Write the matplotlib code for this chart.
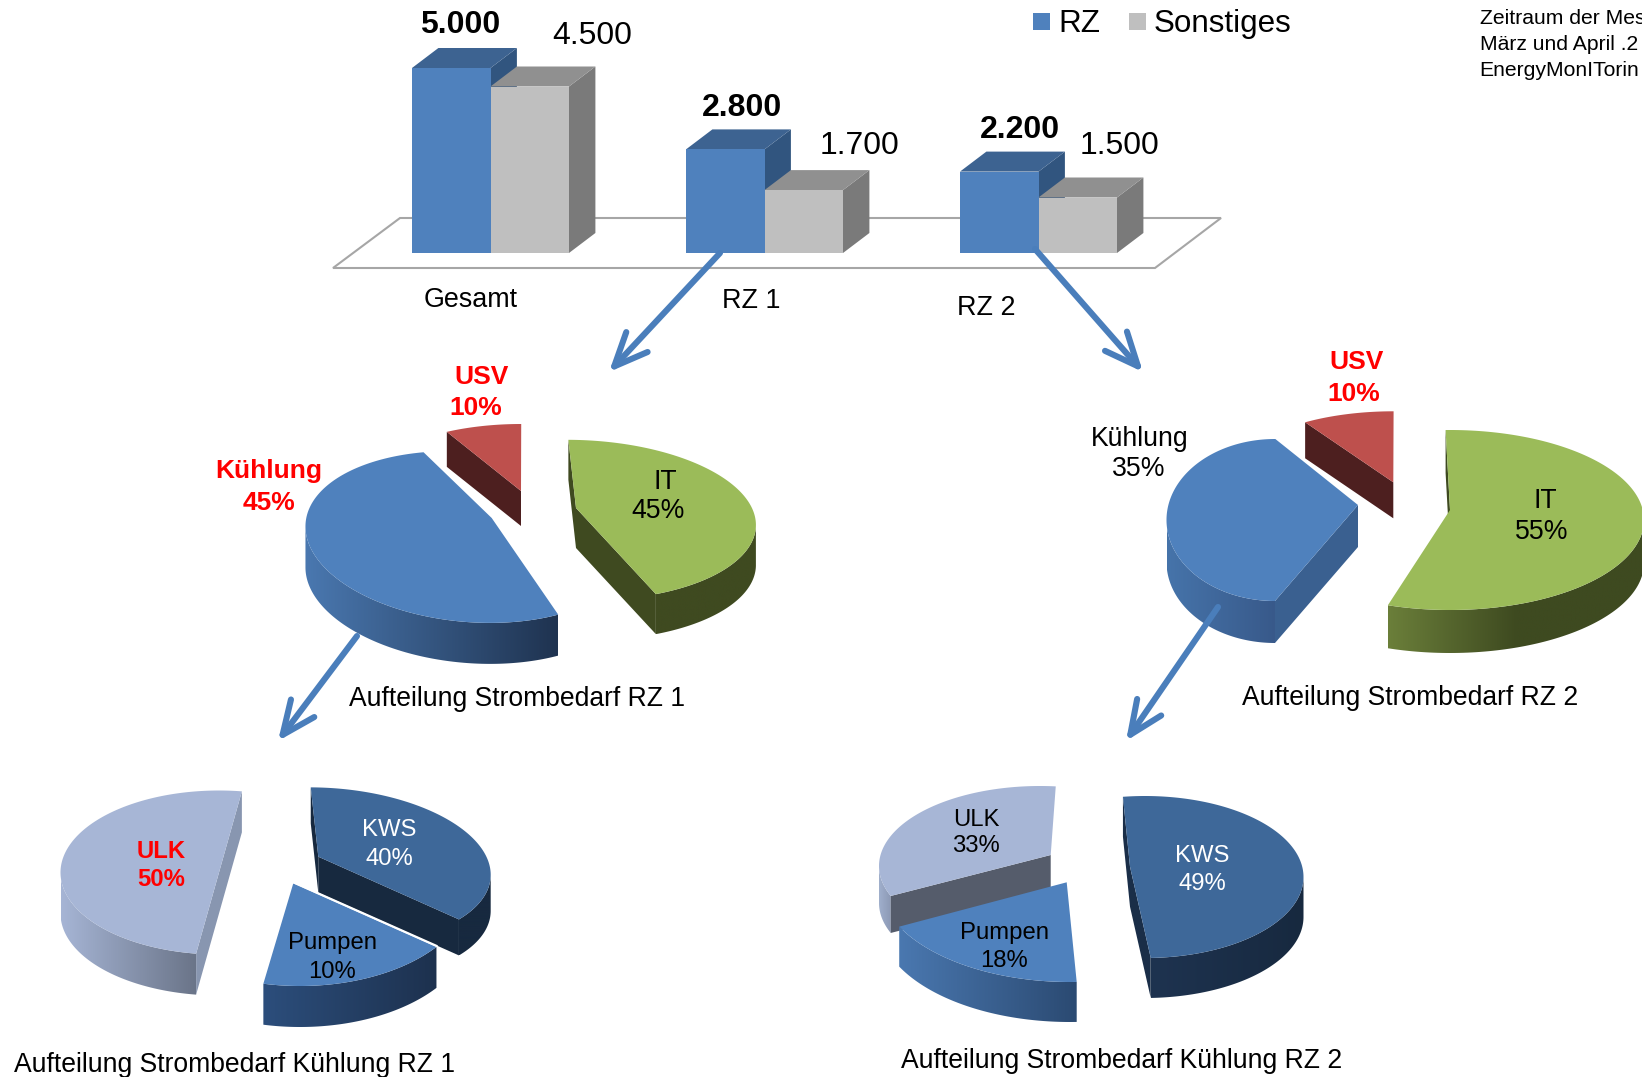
import matplotlib
matplotlib.use("Agg")
import matplotlib.pyplot as plt
import numpy as np
from matplotlib.colors import to_rgb
from matplotlib.patches import Polygon, Rectangle

plt.rcParams["font.family"] = ["Liberation Sans", "DejaVu Sans"]

# Werte aus dem Bild
KATEGORIEN = ["Gesamt", "RZ 1", "RZ 2"]
RZ_WERTE = [5000, 2800, 2200]
SONSTIGES_WERTE = [4500, 1700, 1500]

RZ1_ANTEILE = {"Kühlung": 45, "USV": 10, "IT": 45}
RZ2_ANTEILE = {"Kühlung": 35, "USV": 10, "IT": 55}
KUEHLUNG_RZ1 = {"ULK": 50, "KWS": 40, "Pumpen": 10}
KUEHLUNG_RZ2 = {"ULK": 33, "KWS": 49, "Pumpen": 18}

BLAU = "#4F81BD"
GRAU = "#BFBFBF"
PFEIL = "#4A7EBB"
ROT = "#FF0000"
TEXT_DY = 2

# Darstellung der Segmente: Mittelpunkt, Halbachsen, Kippung, Startwinkel, Tiefe
SEGMENTE = [
    dict(wert=RZ1_ANTEILE["USV"], c=(521, 491), a=158, b=67, t0=242, k=0.78, apex=(521, 491), d=35,
         top="#BE504D", wand=("#4D1F1F", "#4D1F1F"), schnitt=["start"], schnitt_farbe="#4D1F1F"),
    dict(wert=RZ1_ANTEILE["IT"], c=(578, 520), a=178, b=80, phi=2, t0=266, k=0.97, apex=(576, 508), d=40,
         top="#9BBB59", wand=("#3F4A20", "#3F4A20"), schnitt=["start", "ende"], schnitt_farbe="#3F4A20"),
    dict(wert=RZ1_ANTEILE["Kühlung"], c=(470, 537), a=165, b=85, phi=5, t0=55, k=1.21, apex=(491.7, 518), d=41,
         top=BLAU, wand=("#4A78B0", "#1F3350")),
    dict(wert=RZ2_ANTEILE["USV"], c=(1393.3, 482.3), a=165, b=71, t0=237.7, k=0.9, apex=(1393.3, 482.3), d=36,
         top="#BE504D", wand=("#4D1F1F", "#4D1F1F"), schnitt=["start"], schnitt_farbe="#4D1F1F"),
    dict(wert=RZ2_ANTEILE["Kühlung"], c=(1275, 520), a=108.5, b=81, t0=90, k=1.43, apex=(1358, 505), d=42,
         top=BLAU, wand=("#4674AA", "#38598A"), schnitt=["start"], schnitt_farbe="#3A6090"),
    dict(wert=RZ2_ANTEILE["IT"], c=(1450, 520), a=194, b=90, t0=268.7, k=1.01, apex=(1450, 510), d=43,
         top="#9BBB59", wand=("#6B7F3A", "#3E4A20"), schnitt=["start"], schnitt_farbe="#3E4A20", verlauf=0.5),
    dict(wert=KUEHLUNG_RZ1["ULK"], c=(219, 872.5), a=158.5, b=82, t0=98.3, k=1.0, apex=(219, 872.5), d=41,
         top="#A7B6D6", wand=("#A6B5D5", "#6A7488"), schnitt=["start", "ende"], schnitt_farbe="#8896B0"),
    dict(wert=KUEHLUNG_RZ1["KWS"], c=(328, 866), a=163, b=78, phi=4, t0=262, k=0.92, apex=(318.3, 856.7), d=36,
         top="#3E6899", wand=("#17293F", "#17293F"), schnitt=["start", "ende"], schnitt_farbe="#17293F"),
    dict(wert=KUEHLUNG_RZ1["Pumpen"], c=(300, 886), a=172, b=100, t0=37.5, k=1.8, apex=(293.3, 883.3), d=41,
         top=BLAU, wand=("#2C4E7C", "#1D314E"), trenner=True),
    dict(wert=KUEHLUNG_RZ2["ULK"], c=(1040, 866), a=161, b=80, t0=158, k=0.99, apex=(1050.7, 855), d=37,
         top="#A7B6D6", wand=("#A0AFCC", "#8C99B5"), schnitt=["start"], schnitt_farbe="#555C6B"),
    dict(wert=KUEHLUNG_RZ2["Pumpen"], c=(1070, 880), a=192, b=102, t0=88, k=1.0, apex=(1066.7, 882.3), d=40,
         top=BLAU, wand=("#4A78B0", "#2B4A72")),
    dict(wert=KUEHLUNG_RZ2["KWS"], c=(1145, 877), a=158.5, b=81, t0=262, k=1.054, apex=(1130, 866.7), d=40,
         top="#3E6899", wand=("#1E3350", "#17293F"), schnitt=["start", "ende"], schnitt_farbe="#1A2E48"),
]


def bogen(s):
    t0 = s["t0"]
    t = np.radians(np.linspace(t0, t0 + s["wert"] * 3.6 * s["k"], 160))
    phi = np.radians(s.get("phi", 0))
    ca, sb = s["a"] * np.cos(t), s["b"] * np.sin(t)
    x = s["c"][0] + ca * np.cos(phi) - sb * np.sin(phi)
    y = s["c"][1] + ca * np.sin(phi) + sb * np.cos(phi)
    return x, y


def zeichne_segment(ax, s, z):
    x, y = bogen(s)
    d = s["d"]

    # nur der vordere Teil des Bogens hat eine sichtbare Aussenwand
    vorne = np.gradient(x) < 0
    if vorne.any():
        vx, vy = x[vorne], y[vorne]
        links, rechts = np.array(to_rgb(s["wand"][0])), np.array(to_rgb(s["wand"][1]))
        f = np.clip(np.linspace(0, 1, 256) / s.get("verlauf", 1.0), 0, 1)[None, :, None]
        bild = ax.imshow(links * (1 - f) + rechts * f, aspect="auto", zorder=z, interpolation="bilinear",
                         extent=(vx.min(), vx.max(), vy.max() + d, vy.min()))
        wand = Polygon(np.column_stack([np.r_[vx, vx[::-1]], np.r_[vy, vy[::-1] + d]]), transform=ax.transData,
                       facecolor="none", edgecolor="none")
        ax.add_patch(wand)
        bild.set_clip_path(wand)

    # Schnittflaechen
    ax_, ay_ = s["apex"]
    for seite in s.get("schnitt", []):
        i = 0 if seite == "start" else -1
        ax.add_patch(Polygon([(ax_, ay_), (x[i], y[i]), (x[i], y[i] + d), (ax_, ay_ + d)], zorder=z + 0.1,
                             facecolor=s["schnitt_farbe"], edgecolor="none"))

    ax.add_patch(Polygon(np.column_stack([np.r_[ax_, x], np.r_[ay_, y]]), facecolor=s["top"],
                         edgecolor="none", zorder=z + 0.2))
    if s.get("trenner"):
        ax.plot([ax_, x[0]], [ay_ - 1, y[0] - 1], color="white", lw=1.6, zorder=z + 0.3)


def zeichne_saeule(ax, x, wert, breite, farbe, farbe_oben, farbe_seite):
    basis, skala, tx, ty = 253, 0.037, 26.4, 20
    h = wert * skala
    ax.add_patch(Polygon([(x + breite, basis), (x + breite + tx, basis - ty), (x + breite + tx, basis - h - ty),
                          (x + breite, basis - h)], facecolor=farbe_seite, edgecolor="none"))
    ax.add_patch(Polygon([(x, basis - h), (x + tx, basis - h - ty), (x + breite + tx, basis - h - ty),
                          (x + breite, basis - h)], facecolor=farbe_oben, edgecolor="none"))
    ax.bar(x, -h, breite, bottom=basis, align="edge", color=farbe, linewidth=0)


def pfeil(ax, von, nach):
    ax.annotate("", xy=nach, xytext=von, zorder=90,
                arrowprops=dict(arrowstyle="->,head_length=2.4,head_width=1.05", color=PFEIL, lw=4.4,
                                shrinkA=0, shrinkB=0))


def schreibe(ax, x, y, text, **kw):
    kw.setdefault("va", "center")
    ax.text(x, y + TEXT_DY, text, zorder=100, **kw)


def zahl(wert):
    return f"{wert:,}".replace(",", ".")


fig = plt.figure(figsize=(16.42, 10.77), dpi=100)
ax = fig.add_axes([0, 0, 1, 1])

# Boden und Saeulen
ax.add_patch(Polygon([(333, 268), (1155, 268), (1221, 218), (400, 218)], facecolor="white",
                     edgecolor="#A6A6A6", linewidth=1.5))
for i, x0 in enumerate([412, 686, 960]):
    zeichne_saeule(ax, x0, RZ_WERTE[i], 78.5, BLAU, "#3D6391", "#31557F")
    zeichne_saeule(ax, x0 + 78.5, SONSTIGES_WERTE[i], 78.5, GRAU, "#909090", "#7A7A7A")

for x, y, w in zip([460, 742, 1020], [23, 106, 128], RZ_WERTE):
    schreibe(ax, x, y, zahl(w), fontsize=23, fontweight="bold", ha="center")
for x, y, w in zip([592, 860, 1120], [34.5, 144.5, 143.5], SONSTIGES_WERTE):
    schreibe(ax, x, y, zahl(w), fontsize=23, ha="center")
for x, y, name in zip([471, 751, 986], [298, 299.5, 306], KATEGORIEN):
    schreibe(ax, x, y, name, fontsize=19.4, ha="center")

# Legende
ax.add_patch(Rectangle((1033, 13), 17, 17, facecolor=BLAU, edgecolor="none"))
schreibe(ax, 1058, 22, "RZ", fontsize=22.6)
ax.add_patch(Rectangle((1129, 13), 17, 17, facecolor=GRAU, edgecolor="none"))
schreibe(ax, 1154, 22, "Sonstiges", fontsize=22.6)

for y, zeile in zip([17, 42.7, 68], ["Zeitraum der Mes", "März und April .2", "EnergyMonITorin"]):
    schreibe(ax, 1479.5, y, zeile, fontsize=15.2)

for n, s in enumerate(SEGMENTE):
    zeichne_segment(ax, s, 2 + n)

pfeil(ax, (720, 253), (609, 372))
pfeil(ax, (1035, 249), (1143, 372))
pfeil(ax, (357, 636), (278, 741))
pfeil(ax, (1218, 607), (1126, 741))

# Beschriftungen
for x, y, text, farbe, groesse, fett in [
    (481.7, 375, "USV", ROT, 19, True),
    (475.4, 406, f"{RZ1_ANTEILE['USV']}%", ROT, 19, True),
    (269, 469, "Kühlung", ROT, 19, True),
    (269, 500.5, f"{RZ1_ANTEILE['Kühlung']}%", ROT, 19, True),
    (665, 479.6, "IT", "black", 19.2, False),
    (657.6, 509, f"{RZ1_ANTEILE['IT']}%", "black", 19.2, False),
    (1357, 360, "USV", ROT, 19, True),
    (1354, 391.6, f"{RZ2_ANTEILE['USV']}%", ROT, 19, True),
    (1139.4, 436.7, "Kühlung", "black", 19.2, False),
    (1139, 467, f"{RZ2_ANTEILE['Kühlung']}%", "black", 19.2, False),
    (1545.7, 498.5, "IT", "black", 19.2, False),
    (1541.5, 530, f"{RZ2_ANTEILE['IT']}%", "black", 19.2, False),
    (161, 850, "ULK", ROT, 17.2, True),
    (161, 877.5, f"{KUEHLUNG_RZ1['ULK']}%", ROT, 17.2, True),
    (389.5, 828, "KWS", "white", 17.2, False),
    (389.5, 856.6, f"{KUEHLUNG_RZ1['KWS']}%", "white", 17.2, False),
    (332, 941.4, "Pumpen", "black", 17.2, False),
    (332, 969.7, f"{KUEHLUNG_RZ1['Pumpen']}%", "black", 17.2, False),
    (976, 818, "ULK", "black", 17.2, False),
    (976, 844, f"{KUEHLUNG_RZ2['ULK']}%", "black", 17.2, False),
    (1004, 931, "Pumpen", "black", 17.2, False),
    (1004, 959, f"{KUEHLUNG_RZ2['Pumpen']}%", "black", 17.2, False),
    (1202, 853.5, "KWS", "white", 17.2, False),
    (1202, 881.7, f"{KUEHLUNG_RZ2['KWS']}%", "white", 17.2, False),
]:
    schreibe(ax, x, y, text, color=farbe, fontsize=groesse, fontweight="bold" if fett else "normal", ha="center")

for x, y, titel in [
    (517, 697.4, "Aufteilung Strombedarf RZ 1"),
    (1410.6, 696.4, "Aufteilung Strombedarf RZ 2"),
    (234.6, 1063, "Aufteilung Strombedarf Kühlung RZ 1"),
    (1121.5, 1058.7, "Aufteilung Strombedarf Kühlung RZ 2"),
]:
    schreibe(ax, x, y, titel, fontsize=19.1, ha="center")

ax.set_xlim(0, 1642)
ax.set_ylim(1077, 0)
ax.axis("off")

fig.savefig("out.png", dpi=100)
